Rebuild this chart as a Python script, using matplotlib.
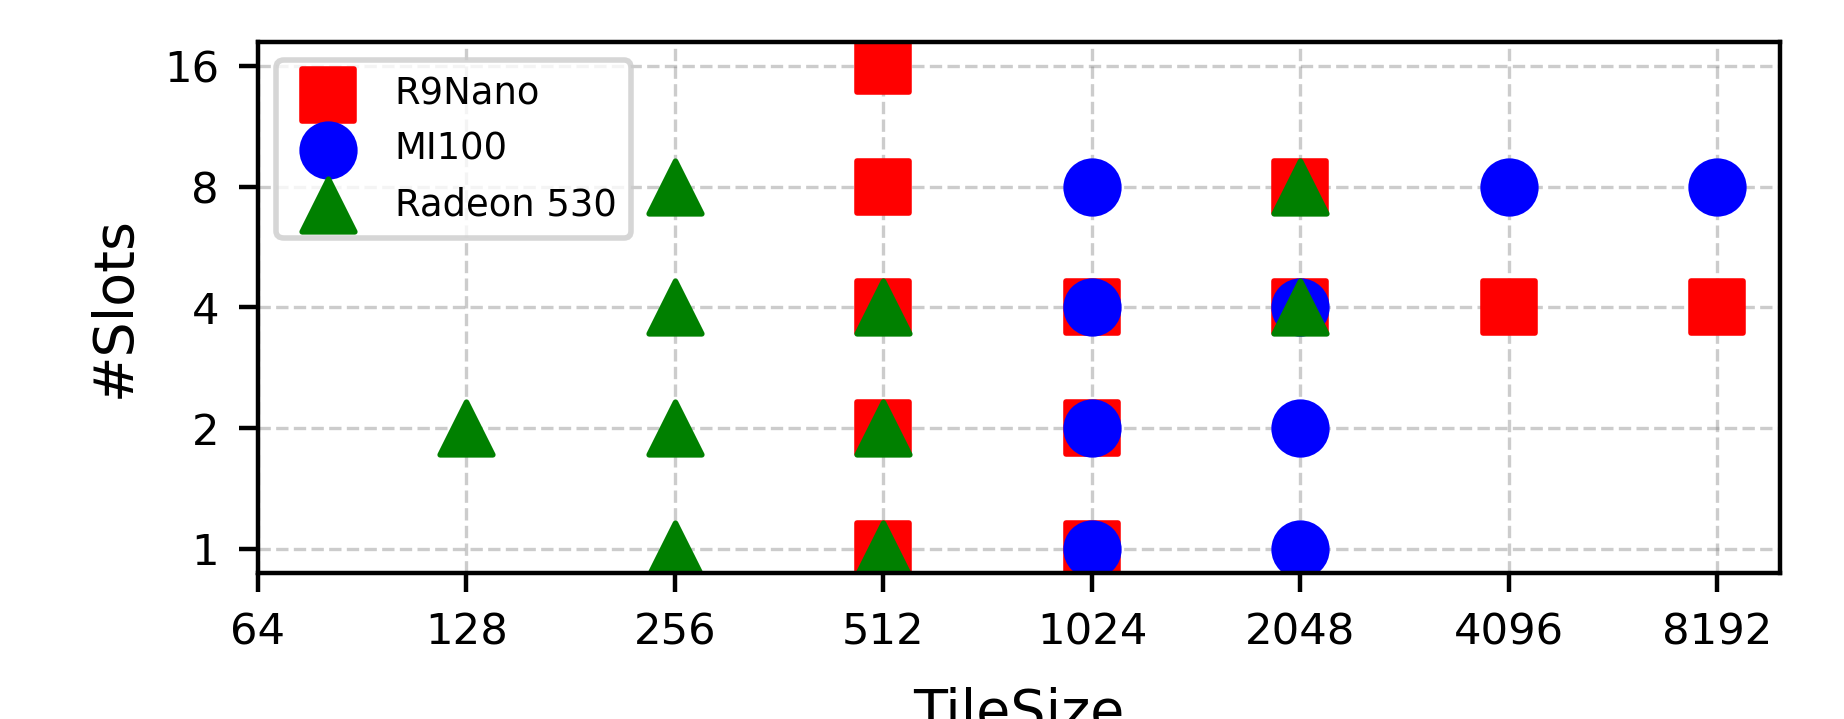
import matplotlib
matplotlib.use("Agg")
import matplotlib.pyplot as plt

# ----------------------------------------------------------------------
# Data: (tile size, #slots) configurations per GPU
# ----------------------------------------------------------------------
r9nano_tile = [512, 512, 512, 512, 512, 1024, 1024, 1024, 2048, 2048, 4096, 8192]
r9nano_slots = [16, 8, 4, 2, 1, 4, 2, 1, 8, 4, 4, 4]

mi100_tile = [1024, 1024, 1024, 1024, 2048, 2048, 2048, 4096, 8192]
mi100_slots = [8, 4, 2, 1, 4, 2, 1, 8, 8]

radeon_tile = [128, 256, 256, 256, 256, 512, 512, 512, 2048, 2048]
radeon_slots = [2, 8, 4, 2, 1, 4, 2, 1, 8, 4]

x_ticks = [64, 128, 256, 512, 1024, 2048, 4096, 8192]
y_ticks = [1, 2, 4, 8, 16]

fig = plt.figure(figsize=(4.61, 1.7975), dpi=400)
ax = fig.add_axes([0.1399, 0.2031, 0.9653 - 0.1399, 0.9416 - 0.2031])

ax.scatter(r9nano_tile, r9nano_slots, marker="s", s=90, color="red", label="R9Nano")
ax.scatter(mi100_tile, mi100_slots, marker="o", s=90, color="blue", label="MI100")
ax.scatter(radeon_tile, radeon_slots, marker="^", s=90, color="green", label="Radeon 530")

ax.set_xscale("log", base=2)
ax.set_yscale("log", base=2)
ax.set_xlim(left=64)
ax.set_xticks(x_ticks)
ax.set_xticklabels([str(t) for t in x_ticks])
ax.set_yticks(y_ticks)
ax.set_yticklabels([str(t) for t in y_ticks])
ax.minorticks_off()
ax.tick_params(labelsize=7.8)

ax.set_xlabel("TileSize", fontsize=10, labelpad=6)
ax.set_ylabel("#Slots", fontsize=10)
ax.grid(True, linestyle="--", color="gray", alpha=0.4, linewidth=0.6)
ax.set_axisbelow(True)
ax.legend(loc="upper left", fontsize=6.65)

fig.savefig("out.png", dpi=400)
